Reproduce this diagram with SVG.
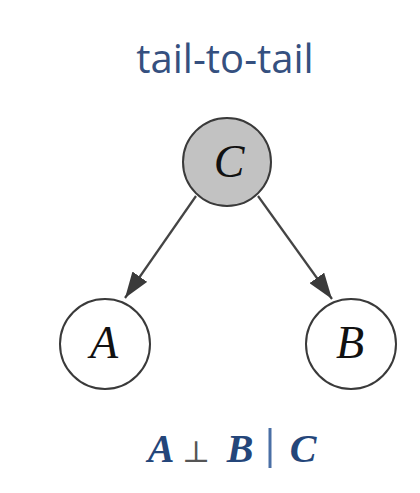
<svg xmlns="http://www.w3.org/2000/svg" width="420" height="493" viewBox="0 0 420 493">
<style>
.node{stroke:#3a3a3a;stroke-width:2;}
.lbl{font-family:"Liberation Serif","Times New Roman",serif;font-style:italic;font-size:46px;fill:#111;text-anchor:middle;}
.edge{stroke:#444;stroke-width:2.2;fill:none;}
.math{font-family:"Liberation Serif",serif;font-weight:bold;font-style:italic;font-size:40px;fill:#24467a;}
</style>
<defs>
<marker id="arrow" viewBox="0 0 26 18" refX="26" refY="9" markerWidth="26" markerHeight="18" markerUnits="userSpaceOnUse" orient="auto">
<path d="M0,0 L26,9 L0,18 z" fill="#3a3a3a"/>
</marker>
</defs>
<rect width="420" height="493" fill="#fff"/>
<text x="225" y="73" font-family="'Open Sans',sans-serif" font-size="40" fill="#35507f" text-anchor="middle">tail-to-tail</text>
<g id="connectors">
<line class="edge" x1="196" y1="196" x2="125" y2="298" marker-end="url(#arrow)"/>
<line class="edge" x1="258" y1="196" x2="332" y2="299" marker-end="url(#arrow)"/>
</g>
<g id="C">
<circle class="node" cx="227" cy="162" r="44" fill="#c2c2c2"/>
<text class="lbl" x="229" y="177">C</text>
</g>
<g id="A">
<circle class="node" cx="105" cy="344" r="45" fill="#fff"/>
<text class="lbl" x="104" y="358">A</text>
</g>
<g id="B">
<circle class="node" cx="351" cy="344" r="45" fill="#fff"/>
<text class="lbl" x="350" y="358">B</text>
</g>
<g id="formula">
<text class="math" x="161" y="462" text-anchor="middle">A</text>
<text x="196" y="462" text-anchor="middle" font-family="'DejaVu Serif',serif" font-size="30" fill="#555">⊥</text>
<text class="math" x="240" y="462" text-anchor="middle">B</text>
<line x1="270" y1="428" x2="270" y2="468" stroke="#4a6fa5" stroke-width="3"/>
<text class="math" x="303" y="462" text-anchor="middle">C</text>
</g>
</svg>
